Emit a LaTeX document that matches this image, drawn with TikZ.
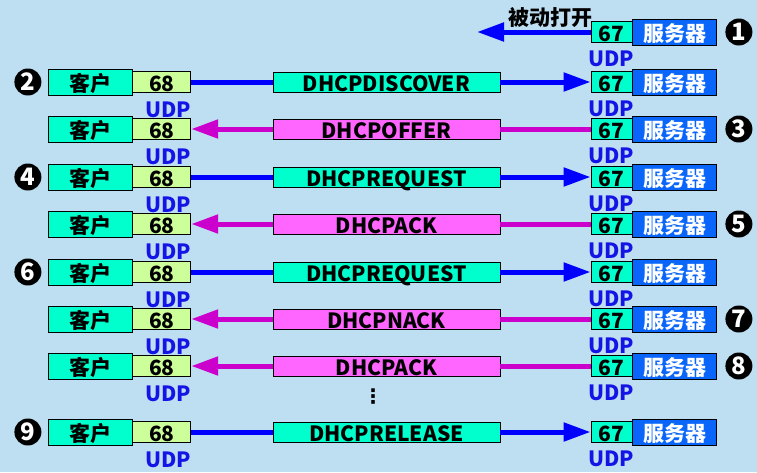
\documentclass[tikz,border=0pt]{standalone}
\usepackage{fontspec}
\setmainfont{Noto Sans CJK SC}
\newfontfamily\symfont{DejaVu Sans}
\usepackage{tikz}
\usetikzlibrary{positioning,arrows.meta}
\definecolor{bgblue}{RGB}{190,222,242}
\definecolor{cyanbox}{RGB}{0,255,204}
\definecolor{portyel}{RGB}{204,255,153}
\definecolor{pinkbox}{RGB}{255,102,255}
\definecolor{servblue}{RGB}{10,102,250}
\definecolor{arrblue}{RGB}{0,0,255}
\definecolor{arrmag}{RGB}{204,0,204}
\definecolor{udpblue}{RGB}{20,20,230}
\newcommand{\boxfont}{\bfseries\fontsize{21}{21}\selectfont}

\begin{document}
\begin{tikzpicture}[x=1pt,y=-1pt,
        box/.style={draw=black,line width=0.8pt,inner sep=0pt,font=\boxfont,text height=19pt,text depth=0pt},
        client/.style={box,fill=cyanbox,minimum width=84pt,minimum height=26pt},
        cport/.style={box,fill=portyel,minimum width=58pt,minimum height=21pt},
        sport/.style={box,fill=cyanbox,minimum width=41pt,minimum height=21pt},
        server/.style={box,fill=servblue,text=white,minimum width=84pt,minimum height=26pt},
        req/.style={box,fill=cyanbox,minimum width=227pt,minimum height=20pt},
        rep/.style={box,fill=pinkbox,minimum width=227pt,minimum height=20pt},
        udp/.style={text=udpblue,inner sep=0pt,font=\boxfont,text height=15pt,text depth=0pt},
        num/.style={circle,fill=black,text=white,minimum size=27pt,inner sep=0pt,font=\bfseries\fontsize{24}{24}\selectfont},
        toserv/.style={draw=arrblue,line width=5pt},
        tocli/.style={draw=arrmag,line width=5pt},
        tip/.style={-{Triangle[length=27pt,width=18pt]}}]
        \fill[bgblue] (0,0) rectangle (757,472);

        \node[sport] (q1) at (611.5,32) {67};
        \node[server,right=0pt of q1] (s1) {服务器};
        \node[udp,below=8pt of q1] (v1) {UDP};
        \node[num,right=8pt of s1] (n1) {1};
        \coordinate (a1) at (477,32);
        \node[font=\boxfont,inner sep=0pt] (passive) at (550,18) {被动打开};
        \draw[toserv,tip] (q1) -- (a1);

        \node[client] (c2) at (90,82) {客户};
        \node[cport,right=0pt of c2] (p2) {68};
        \node[req] (m2) at (386.5,82) {DHCPDISCOVER};
        \node[sport] (q2) at (611.5,82) {67};
        \node[server,right=0pt of q2] (s2) {服务器};
        \node[udp,below=9pt of p2.south east,anchor=north east] (u2) {UDP};
        \node[udp,below=8pt of q2] (v2) {UDP};
        \node[num,left=6pt of c2] (n2) {2};
        \draw[toserv] (p2) -- (m2);
        \draw[toserv,tip] (m2) -- (q2);

        \node[client] (c3) at (90,129) {客户};
        \node[cport,right=0pt of c3] (p3) {68};
        \node[rep] (m3) at (386.5,129) {DHCPOFFER};
        \node[sport] (q3) at (611.5,129) {67};
        \node[server,right=0pt of q3] (s3) {服务器};
        \node[udp,below=9pt of p3.south east,anchor=north east] (u3) {UDP};
        \node[udp,below=8pt of q3] (v3) {UDP};
        \node[num,right=8pt of s3] (n3) {3};
        \draw[tocli] (q3) -- (m3);
        \draw[tocli,tip] (m3) -- (p3);

        \node[client] (c4) at (90,177) {客户};
        \node[cport,right=0pt of c4] (p4) {68};
        \node[req] (m4) at (386.5,177) {DHCPREQUEST};
        \node[sport] (q4) at (611.5,177) {67};
        \node[server,right=0pt of q4] (s4) {服务器};
        \node[udp,below=9pt of p4.south east,anchor=north east] (u4) {UDP};
        \node[udp,below=8pt of q4] (v4) {UDP};
        \node[num,left=6pt of c4] (n4) {4};
        \draw[toserv] (p4) -- (m4);
        \draw[toserv,tip] (m4) -- (q4);

        \node[client] (c5) at (90,224) {客户};
        \node[cport,right=0pt of c5] (p5) {68};
        \node[rep] (m5) at (386.5,224) {DHCPACK};
        \node[sport] (q5) at (611.5,224) {67};
        \node[server,right=0pt of q5] (s5) {服务器};
        \node[udp,below=9pt of p5.south east,anchor=north east] (u5) {UDP};
        \node[udp,below=8pt of q5] (v5) {UDP};
        \node[num,right=8pt of s5] (n5) {5};
        \draw[tocli] (q5) -- (m5);
        \draw[tocli,tip] (m5) -- (p5);

        \node[client] (c6) at (90,272) {客户};
        \node[cport,right=0pt of c6] (p6) {68};
        \node[req] (m6) at (386.5,272) {DHCPREQUEST};
        \node[sport] (q6) at (611.5,272) {67};
        \node[server,right=0pt of q6] (s6) {服务器};
        \node[udp,below=9pt of p6.south east,anchor=north east] (u6) {UDP};
        \node[udp,below=8pt of q6] (v6) {UDP};
        \node[num,left=6pt of c6] (n6) {6};
        \draw[toserv] (p6) -- (m6);
        \draw[toserv,tip] (m6) -- (q6);

        \node[client] (c7) at (90,319) {客户};
        \node[cport,right=0pt of c7] (p7) {68};
        \node[rep] (m7) at (386.5,319) {DHCPNACK};
        \node[sport] (q7) at (611.5,319) {67};
        \node[server,right=0pt of q7] (s7) {服务器};
        \node[udp,below=9pt of p7.south east,anchor=north east] (u7) {UDP};
        \node[udp,below=8pt of q7] (v7) {UDP};
        \node[num,right=8pt of s7] (n7) {7};
        \draw[tocli] (q7) -- (m7);
        \draw[tocli,tip] (m7) -- (p7);

        \node[client] (c8) at (90,366) {客户};
        \node[cport,right=0pt of c8] (p8) {68};
        \node[rep] (m8) at (386.5,366) {DHCPACK};
        \node[sport] (q8) at (611.5,366) {67};
        \node[server,right=0pt of q8] (s8) {服务器};
        \node[udp,below=9pt of p8.south east,anchor=north east] (u8) {UDP};
        \node[udp,below=8pt of q8] (v8) {UDP};
        \node[num,right=8pt of s8] (n8) {8};
        \draw[tocli] (q8) -- (m8);
        \draw[tocli,tip] (m8) -- (p8);

        \node[font=\symfont\bfseries\fontsize{20}{20}\selectfont,inner sep=0pt] (dots) at (373,397) {⋮};

        \node[client] (c9) at (90,432) {客户};
        \node[cport,right=0pt of c9] (p9) {68};
        \node[req] (m9) at (386.5,432) {DHCPRELEASE};
        \node[sport] (q9) at (611.5,432) {67};
        \node[server,right=0pt of q9] (s9) {服务器};
        \node[udp,below=9pt of p9.south east,anchor=north east] (u9) {UDP};
        \node[udp,below=8pt of q9] (v9) {UDP};
        \node[num,left=6pt of c9] (n9) {9};
        \draw[toserv] (p9) -- (m9);
        \draw[toserv,tip] (m9) -- (q9);
\end{tikzpicture}
\end{document}
